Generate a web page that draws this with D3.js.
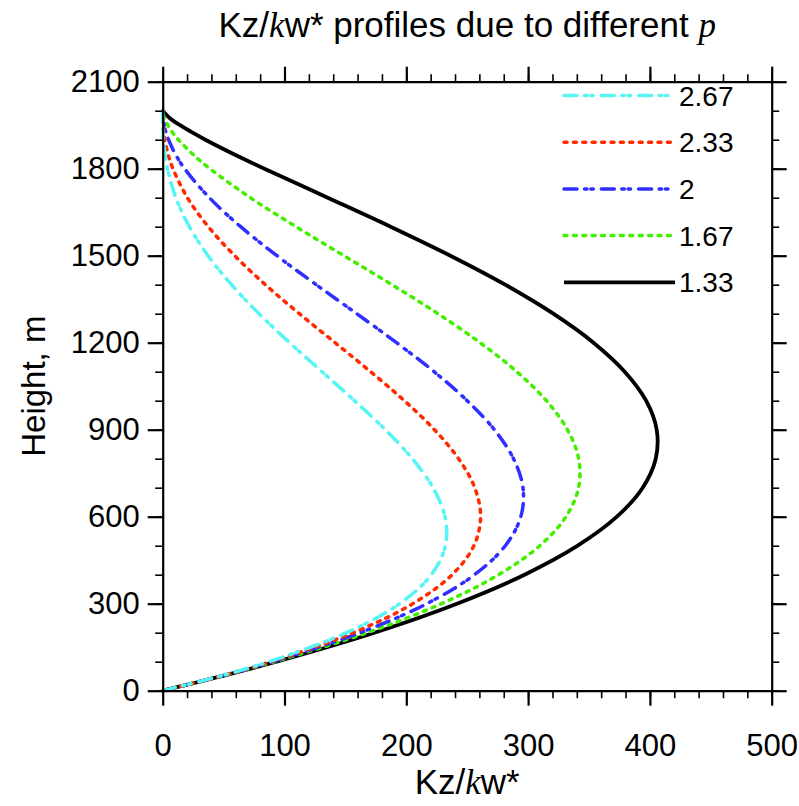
<!DOCTYPE html>
<html>
<head>
<meta charset="utf-8">
<script src="https://cdn.jsdelivr.net/npm/d3@7"></script>
<style>
  body { margin: 0; background: #fff; }
  svg { display: block; font-family: 'Liberation Sans', Arial, sans-serif; }
</style>
</head>
<body>
<div id="chart-container"></div>
<script>
// heights (m) where each profile was read
const heights = [0, 50, 100, 200, 300, 400, 500, 600, 700, 800, 900, 1000, 1100, 1200, 1300,
  1400, 1500, 1600, 1700, 1800, 1850, 1900, 1925, 1950, 1975, 2000]

// Kz/kw*, same order as heights
const kzP133 = [0, 48.3, 93.4, 173.8, 241.6, 297.1, 340.7, 372.9, 394.1, 404.8, 405.6, 396.9, 379.3,
  353.7, 320.7, 281.2, 236.2, 187.1, 135.5, 83.5, 58.5, 35.0, 24.2, 14.3, 5.7, 0]
const kzP167 = [0, 47.9, 91.8, 167.8, 228.8, 275.8, 309.6, 331.1, 341.4, 341.5, 332.3, 315.0, 290.7,
  260.6, 226.0, 188.2, 148.8, 109.4, 72.0, 38.8, 24.7, 12.9, 8.1, 4.2, 1.3, 0]
const kzP200 = [0, 47.5, 90.3, 162.0, 216.8, 256.0, 281.3, 294.0, 295.8, 288.0, 272.3, 250.0, 222.8,
  192.0, 159.3, 126.0, 93.8, 64.0, 38.3, 18.0, 10.4, 4.8, 2.7, 1.2, 0.3, 0]
const kzP233 = [0, 47.1, 88.7, 156.4, 205.3, 237.6, 255.5, 261.0, 256.2, 242.9, 223.1, 198.4, 170.7,
  141.5, 112.2, 84.3, 59.1, 37.4, 20.3, 8.4, 4.4, 1.7, 0.9, 0.35, 0.05, 0]
const kzP267 = [0, 46.7, 87.2, 151.0, 194.5, 220.6, 232.1, 231.8, 221.9, 204.9, 182.8, 157.5, 130.8,
  104.2, 79.1, 56.5, 37.2, 21.9, 10.8, 3.9, 1.85, 0.6, 0.3, 0.1, 0, 0]

const legendLabels = ['2.67', '2.33', '2', '1.67', '1.33']

const xTicks = [0, 100, 200, 300, 400, 500]
const yTicks = [0, 300, 600, 900, 1200, 1500, 1800, 2100]

const chartWidth = 799
const chartHeight = 806
const plot = { left: 162.7, top: 81.7, size: 609 }

const dashDotDot = '13 7.5 2.5 3.8 2.5 8'

const series = [
  { label: '1.33', values: kzP133, color: '#000000', width: 3.8, dash: null },
  { label: '1.67', values: kzP167, color: '#44ee00', width: 3.5, dash: '3 6.4' },
  { label: '2', values: kzP200, color: '#2f2fff', width: 3.5, dash: dashDotDot },
  { label: '2.33', values: kzP233, color: '#ff2a00', width: 3.5, dash: '3 6.4' },
  { label: '2.67', values: kzP267, color: '#55f5f5', width: 3.5, dash: dashDotDot }
]

const svg = d3
  .select('#chart-container')
  .append('svg')
  .attr('width', chartWidth)
  .attr('height', chartHeight)

const xScale = d3.scaleLinear().domain([0, 500]).range([plot.left, plot.left + plot.size])
const yScale = d3.scaleLinear().domain([0, 2100]).range([plot.top + plot.size, plot.top])

const steps = (a, b, s) => d3.range(a, b + s / 2, s)

const drawAxes = () => {
  const bottom = plot.top + plot.size
  const right = plot.left + plot.size
  const sides = [
    { axis: d3.axisBottom, scale: xScale, at: `translate(0,${bottom})`, major: xTicks, minor: steps(0, 500, 20), labels: true, pad: 28 },
    { axis: d3.axisTop, scale: xScale, at: `translate(0,${plot.top})`, major: xTicks, minor: steps(0, 500, 20), labels: false, pad: 8 },
    { axis: d3.axisLeft, scale: yScale, at: `translate(${plot.left},0)`, major: yTicks, minor: steps(0, 2100, 100), labels: true, pad: 8 },
    { axis: d3.axisRight, scale: yScale, at: `translate(${right},0)`, major: yTicks, minor: steps(0, 2100, 100), labels: false, pad: 8 }
  ]

  sides.forEach(({ axis, scale, at, major, minor, labels, pad }) => {
    svg
      .append('g')
      .attr('transform', at)
      .call(axis(scale).tickValues(minor).tickSize(7.5).tickSizeOuter(0).tickFormat(''))
      .call(g => g.select('.domain').remove())
      .call(g => g.selectAll('line').attr('stroke-width', 1.6))

    const g = svg
      .append('g')
      .attr('transform', at)
      .call(
        axis(scale)
          .tickValues(major)
          .tickSize(15)
          .tickSizeOuter(0)
          .tickPadding(pad)
          .tickFormat(labels ? d3.format('d') : '')
      )
    g.select('.domain').attr('stroke-width', 2.2)
    g.selectAll('line').attr('stroke-width', 2.2)
    g.selectAll('text')
      .attr('font-size', 31)
      .attr('font-family', 'Liberation Sans, Arial, sans-serif')
      .attr('fill', '#000')
  })
}

const drawCurves = () => {
  const line = d3
    .line()
    .x(d => xScale(d[0]))
    .y(d => yScale(d[1]))
    .curve(d3.curveCatmullRom.alpha(0.5))

  series.forEach(({ values, color, width, dash }) => {
    svg
      .append('path')
      .datum(values.map((v, i) => [v, heights[i]]))
      .attr('d', line)
      .attr('fill', 'none')
      .attr('stroke', color)
      .attr('stroke-width', width)
      .attr('stroke-linecap', dash ? 'round' : 'butt')
      .attr('stroke-linejoin', 'round')
      .attr('stroke-dasharray', dash)
  })
}

const drawLegend = () => {
  const legend = svg.append('g').attr('id', 'legend')
  const x0 = 564
  const x1 = 675
  const y0 = 95.5
  const step = 46.7

  legendLabels.forEach((label, i) => {
    const s = series.find(d => d.label === label)
    const y = y0 + i * step
    legend
      .append('line')
      .attr('x1', x0)
      .attr('x2', x1)
      .attr('y1', y)
      .attr('y2', y)
      .attr('stroke', s.color)
      .attr('stroke-width', s.width)
      .attr('stroke-linecap', s.dash ? 'round' : 'butt')
      .attr('stroke-dasharray', s.dash)

    legend
      .append('text')
      .attr('x', x1 + 4)
      .attr('y', y + 10)
      .attr('font-size', 28)
      .text(label)
  })
}

// text with italic serif k / p, the way the figure sets them
const mathText = (sel, parts) => {
  parts.forEach(([str, italic]) => {
    const t = sel.append('tspan').text(str)
    if (italic) t.attr('font-family', 'Liberation Serif, serif').attr('font-style', 'italic')
  })
}

const drawTitles = () => {
  const title = svg
    .append('text')
    .attr('x', plot.left + plot.size / 2)
    .attr('y', 37)
    .attr('text-anchor', 'middle')
    .attr('font-size', 35)
  mathText(title, [['Kz/'], ['k', true], ['w* profiles due to different '], ['p', true]])

  const xTitle = svg
    .append('text')
    .attr('x', plot.left + plot.size / 2)
    .attr('y', 794)
    .attr('text-anchor', 'middle')
    .attr('font-size', 35)
  mathText(xTitle, [['Kz/'], ['k', true], ['w*']])

  svg
    .append('text')
    .attr('transform', `translate(45,${plot.top + plot.size / 2}) rotate(-90)`)
    .attr('text-anchor', 'middle')
    .attr('font-size', 33)
    .text('Height, m')
}

drawCurves()
drawAxes()
drawLegend()
drawTitles()
</script>
</body>
</html>
